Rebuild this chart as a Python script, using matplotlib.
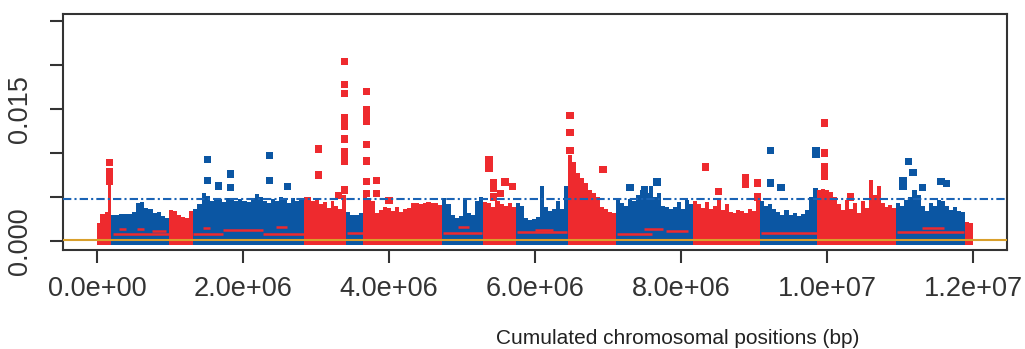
import matplotlib
matplotlib.use('Agg')
import matplotlib.pyplot as plt
import numpy as np

plt.rcParams['font.family'] = ['Liberation Sans', 'DejaVu Sans']

# Границы хромосом (Mb, кумулятивно), цвета чередуются красный/синий
seg_bounds = [0.0, 0.19, 0.99, 1.32, 2.83, 3.41, 3.65, 4.73, 5.29, 5.74,
              6.45, 7.11, 8.17, 9.08, 9.87, 10.95, 11.89, 12.0]

# Верхняя огибающая плотного облака точек в каждой хромосоме (x1e-3)
seg_heights = [
    [2.0, 3.1, 3.1, 3.3, 6.5],
    [3.0, 3.0, 3.1, 3.1, 3.1, 3.3, 4.3, 4.4, 3.8, 3.6, 3.2, 3.3, 2.8, 2.6],
    [3.5, 3.4, 3.0, 2.7, 2.6, 3.4],
    [3.6, 4.2, 5.4, 5.1, 4.6, 4.9, 4.8, 4.4, 4.9, 4.7, 4.5, 4.8, 4.6, 4.4,
     4.9, 5.3, 5.0, 4.6, 4.3, 4.8, 4.6, 5.0, 4.7, 4.3, 4.9, 4.5, 4.8],
    [5.0, 5.0, 4.6, 4.8, 4.2, 4.4, 3.8, 4.5, 4.0, 3.6, 5.2],
    [3.3, 2.9, 3.0, 3.2],
    [5.0, 4.9, 4.5, 3.2, 3.5, 3.9, 3.8, 3.4, 3.9, 3.3, 3.6, 3.8, 4.3, 4.3,
     4.2, 4.3, 4.4, 4.3, 4.3, 4.1],
    [4.9, 4.2, 3.0, 2.6, 2.8, 4.7, 3.2, 3.0, 4.5, 5.0],
    [4.4, 4.3, 3.9, 4.5, 4.2, 4.0, 4.3, 3.9],
    [4.3, 4.0, 2.6, 2.4, 2.5, 2.7, 6.2, 3.9, 3.4, 3.6, 4.6, 3.6, 6.2],
    [9.8, 9.0, 7.7, 7.2, 6.6, 5.8, 5.4, 5.0, 3.9, 3.6, 3.3, 3.2],
    [4.7, 4.3, 4.0, 4.8, 4.5, 5.2, 5.8, 5.5, 6.2, 5.0, 5.4, 4.0, 3.9, 3.6,
     3.9, 4.4, 3.6, 4.7, 4.2],
    [4.5, 4.2, 3.8, 4.4, 3.6, 4.0, 4.7, 3.5, 4.2, 3.3, 3.2, 3.5, 3.4, 3.2,
     3.6, 3.4, 4.5],
    [4.5, 4.0, 4.2, 3.6, 3.3, 3.0, 3.5, 2.9, 3.2, 2.8, 3.1, 3.5, 5.0, 6.0],
    [5.8, 5.9, 5.8, 5.6, 5.0, 4.2, 3.5, 4.7, 3.6, 4.3, 3.2, 4.5, 3.8, 6.9,
     5.2, 6.2, 4.3, 3.9, 4.1, 3.8],
    [4.3, 4.0, 4.7, 5.0, 5.8, 5.2, 4.0, 3.4, 4.3, 4.0, 4.7, 4.5, 4.0, 3.5,
     3.9, 3.4, 3.3],
    [2.2, 2.0],
]

# Отдельные точки выше облака (Mb, x1e-3)
out_x = [0.175, 0.175, 0.17, 0.17,
         1.51, 1.51, 1.66, 1.83, 1.83, 2.36, 2.36, 2.61,
         3.03, 3.03, 3.31,
         3.39, 3.39, 3.39, 3.39, 3.39, 3.39, 3.39, 3.39, 3.39, 3.39, 3.39,
         3.69, 3.69, 3.69, 3.69, 3.69, 3.69, 3.69, 3.69, 3.69,
         3.83, 3.83, 4.0,
         5.37, 5.37, 5.43, 5.43, 5.43, 5.59, 5.53, 5.69,
         6.48, 6.48, 6.48, 6.93,
         7.3, 7.67, 7.5,
         8.34, 8.51, 8.88, 8.88, 9.05, 9.05,
         9.23, 9.23, 9.37, 9.85, 9.85,
         9.97, 9.97, 9.97, 9.97, 9.97, 10.32,
         11.12, 11.18, 11.04, 11.04, 11.31, 11.56, 11.64]
out_y = [8.9, 7.9, 7.4, 6.8,
         9.3, 6.9, 6.25, 7.6, 6.1, 9.7, 6.9, 6.2,
         10.45, 7.5, 5.2,
         20.4, 17.8, 16.8, 14.0, 13.5, 13.0, 11.6, 10.1, 9.5, 9.0, 5.8,
         17.0, 14.9, 14.5, 14.1, 13.6, 11.0, 9.1, 6.8, 5.4,
         6.9, 5.4, 4.6,
         9.2, 8.3, 6.6, 6.0, 5.0, 6.7, 5.4, 6.2,
         14.3, 12.3, 10.3, 8.1,
         6.1, 6.7, 5.8,
         8.4, 5.6, 7.2, 6.4, 6.6, 5.0,
         10.3, 6.6, 6.1, 10.3, 9.9,
         13.4, 10.0, 8.4, 7.8, 7.3, 5.0,
         9.0, 7.8, 6.9, 6.2, 6.1, 6.8, 6.5]

# Низкие красные отрезки внутри синих хромосом (Mb от, Mb до, x1e-3)
low_start = [0.22, 0.30, 0.55, 0.75, 1.32, 1.73, 2.27, 1.45, 2.45,
             3.42, 4.74, 4.95, 5.75, 6.0, 7.12, 7.5, 7.8, 9.09, 10.96, 11.3]
low_end = [0.99, 0.40, 0.65, 0.95, 1.73, 2.27, 2.83, 1.55, 2.60,
           3.65, 5.28, 5.10, 6.44, 6.25, 7.6, 7.75, 8.1, 9.86, 11.88, 11.6]
low_val = [0.8, 1.4, 1.4, 1.1, 0.8, 1.2, 0.8, 1.5, 1.6,
           0.9, 0.9, 1.6, 1.0, 1.3, 0.8, 1.4, 1.1, 0.9, 1.0, 1.5]

threshold = 4.8
baseline = 0.1

red = '#ee2a2e'
blue = '#0b56a3'
colors = [red if i % 2 == 0 else blue for i in range(len(seg_heights))]

fig = plt.figure(figsize=(10.25, 3.49), dpi=100)
ax = fig.add_axes([0.0615, 0.2837, 0.9209, 0.6762])

scale = 1e-3
bottom = -0.4 * scale
for i, hs in enumerate(seg_heights):
    x0, x1 = seg_bounds[i] * 1e6, seg_bounds[i + 1] * 1e6
    w = (x1 - x0) / len(hs)
    xs = x0 + w * (np.arange(len(hs)) + 0.5)
    ax.bar(xs, np.array(hs) * scale - bottom, width=w * 1.02, bottom=bottom,
           color=colors[i], linewidth=0, zorder=2)

# цвет отдельных точек по хромосоме
ox = np.array(out_x) * 1e6
idx = np.clip(np.searchsorted(np.array(seg_bounds) * 1e6, ox) - 1, 0, len(colors) - 1)
ax.scatter(ox, np.array(out_y) * scale, marker='s', s=28,
           c=[colors[k] for k in idx], linewidths=0, zorder=3)

ax.hlines(np.array(low_val) * scale, np.array(low_start) * 1e6,
          np.array(low_end) * 1e6, color=red, linewidth=1.8, zorder=3)

ax.axhline(threshold * scale, color='#1a63b5', linewidth=1.5,
           linestyle=(0, (4, 1.5, 1, 1.5)), zorder=4)
ax.axhline(baseline * scale, color='#d9a02c', linewidth=1.5, zorder=4)

ax.set_xlim(-0.466e6, 12.466e6)
ax.set_ylim(-1.02e-3, 25.8e-3)

xt = [0, 2e6, 4e6, 6e6, 8e6, 1e7, 1.2e7]
ax.set_xticks(xt)
ax.set_xticklabels(['0.0e+00', '2.0e+06', '4.0e+06', '6.0e+06', '8.0e+06',
                    '1.0e+07', '1.2e+07'])
yt = [0, 0.005, 0.010, 0.015, 0.020, 0.025]
ax.set_yticks(yt)
ax.set_yticklabels(['0.000', '', '', '0.015', '', ''], rotation=90, va='center')

ax.tick_params(axis='both', direction='out', length=9.5, width=1.5,
               colors='#333333', labelsize=19.5, labelcolor='#333333')
ax.tick_params(axis='x', pad=9)
ax.tick_params(axis='y', pad=12)
for sp in ax.spines.values():
    sp.set_color('#333333')
    sp.set_linewidth(1.5)

fig.text(678 / 1025, 1 - 339 / 349, 'Cumulated chromosomal positions (bp)',
         ha='center', va='center', fontsize=15, color='#222222')

fig.savefig('out.png', dpi=100)
